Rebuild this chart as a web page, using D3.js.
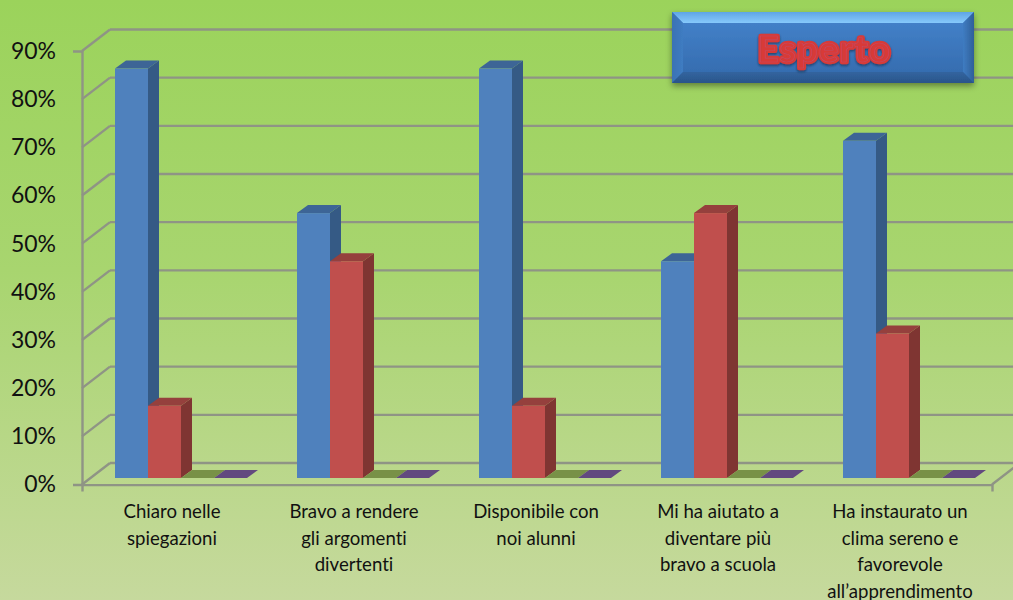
<!DOCTYPE html>
<html>
<head>
<meta charset="utf-8">
<script src="https://cdn.jsdelivr.net/npm/d3@7"></script>
<style>
  html, body { margin: 0; padding: 0; overflow: hidden; }
  svg { display: block; }
  text { font-family: Lato, "Open Sans", sans-serif; fill: #111; font-variant-ligatures: none; }
</style>
</head>
<body>
<div id="chart"></div>
<script>
// DATA
const categories = [
  "Chiaro nelle|spiegazioni",
  "Bravo a rendere|gli argomenti|divertenti",
  "Disponibile con|noi alunni",
  "Mi ha aiutato a|diventare più|bravo a scuola",
  "Ha instaurato un|clima sereno e|favorevole|all’apprendimento"
];
const seriesNames = ["a", "b", "c", "d"];
const seriesA = [85, 55, 85, 45, 70];
const seriesB = [15, 45, 15, 55, 30];
const seriesC = [0, 0, 0, 0, 0];
const seriesD = [0, 0, 0, 0, 0];
const yTicks = [0, 10, 20, 30, 40, 50, 60, 70, 80, 90];
const chartTitle = "Esperto";

// CONSTANTS
const WIDTH = 1013;
const HEIGHT = 600;
const WALL_DX = 28, WALL_DY = -21.5;   // depth of the 3d box
const BAR_DX = 11, BAR_DY = -8;        // depth of one bar
const BASE_DY = -6.5;                  // bars stand a little behind the front edge
const GRID = "#8f9485";

const colors = {
  a: {front: "#4f81bd", top: "#3c6596", side: "#345a85"},
  b: {front: "#c0504d", top: "#953f3c", side: "#7f3431"},
  c: {front: "#9bbb59", top: "#789146", side: "#6a803e"},
  d: {front: "#8064a2", top: "#62497f", side: "#57416f"}
};

// SCALES
const x = d3.scaleBand().domain(categories).range([82, 992]);
const inner = d3.scaleBand().domain(seriesNames).range([33, 165]);
const y = d3.scaleLinear().domain([0, 90]).range([484.5, 51]);

const svg = d3.select("#chart").append("svg")
  .attr("width", WIDTH)
  .attr("height", HEIGHT);

const defs = svg.append("defs");

const addGradient = (id, stops, x2, y2) => {
  const g = defs.append("linearGradient").attr("id", id)
    .attr("x1", 0).attr("y1", 0).attr("x2", x2).attr("y2", y2);
  stops.forEach(s => g.append("stop").attr("offset", s[0]).attr("stop-color", s[1]));
};
addGradient("bg", [[0, "#9bd35b"], [0.45, "#a8d56f"], [1, "#c6d99d"]], 0, 1);
addGradient("boxFace", [[0, "#4584cd"], [1, "#3369ab"]], 0, 1);
addGradient("boxTop", [[0, "#5fa5e6"], [1, "#86c9fb"]], 0, 1);
addGradient("boxLeft", [[0, "#3a72b4"], [1, "#3f7cc2"]], 1, 0);
addGradient("boxRight", [[0, "#3f7cc2"], [1, "#2f6099"]], 1, 0);
addGradient("boxBottom", [[0, "#33659f"], [1, "#29548a"]], 0, 1);

const soft = defs.append("filter").attr("id", "soft");
soft.append("feGaussianBlur").attr("stdDeviation", 0.6);

const shadow = defs.append("filter").attr("id", "shadow")
  .attr("x", "-5%").attr("y", "-10%").attr("width", "110%").attr("height", "125%");
shadow.append("feDropShadow").attr("dx", 0).attr("dy", 3).attr("stdDeviation", 3)
  .attr("flood-color", "#000").attr("flood-opacity", 0.4);

const textShadow = defs.append("filter").attr("id", "textShadow")
  .attr("x", "-10%").attr("y", "-20%").attr("width", "120%").attr("height", "150%");
textShadow.append("feDropShadow").attr("dx", 0).attr("dy", 1.5).attr("stdDeviation", 1.2)
  .attr("flood-color", "#123").attr("flood-opacity", 0.6);

svg.append("rect").attr("width", WIDTH).attr("height", HEIGHT).attr("fill", "url(#bg)");

// WALLS
const walls = svg.append("g").attr("filter", "url(#soft)")
  .attr("stroke", GRID).attr("stroke-width", 2.4).attr("fill", "none");

walls.selectAll(".back").data(yTicks).join("line").attr("class", "back")
  .attr("x1", x.range()[0] + WALL_DX).attr("x2", WIDTH)
  .attr("y1", d => y(d) + WALL_DY).attr("y2", d => y(d) + WALL_DY);

walls.selectAll(".side").data(yTicks).join("line").attr("class", "side")
  .attr("x1", x.range()[0]).attr("x2", x.range()[0] + WALL_DX)
  .attr("y1", d => y(d)).attr("y2", d => y(d) + WALL_DY);

// floor, right edge
walls.append("line")
  .attr("x1", x.range()[1]).attr("x2", x.range()[1] + WALL_DX)
  .attr("y1", y(0)).attr("y2", y(0) + WALL_DY);

// AXES
const yAxis = d3.axisLeft(y).tickValues(yTicks).tickFormat(d => d + "%").tickSize(9).tickPadding(17);
const xAxis = d3.axisBottom(d3.scaleLinear().domain([0, categories.length]).range(x.range()))
  .ticks(categories.length).tickFormat("").tickSize(7);

const yG = svg.append("g").attr("transform", `translate(${x.range()[0]},0)`).call(yAxis);
const xG = svg.append("g").attr("transform", `translate(0,${y(0)})`).call(xAxis);

[yG, xG].forEach(g => {
  g.selectAll("path, line").attr("stroke", GRID).attr("stroke-width", 2.4).attr("filter", "url(#soft)");
});
yG.selectAll("text").style("font-size", "23px").style("fill", "#111");

// BARS
const barData = [seriesA, seriesB, seriesC, seriesD].flatMap((vals, s) =>
  vals.map((v, i) => ({key: seriesNames[s], cat: categories[i], value: v})));

const barW = inner.bandwidth();
const barX = d => x(d.cat) + inner(d.key);
const barY = d => y(d.value) + BASE_DY;
const base = y(0) + BASE_DY;
const pts = arr => arr.map(p => p.join(",")).join(" ");

const bars = svg.append("g").attr("filter", "url(#soft)")
  .selectAll("g").data(barData).join("g");

bars.append("polygon").attr("fill", d => colors[d.key].side)
  .attr("points", d => pts([
    [barX(d) + barW, barY(d)],
    [barX(d) + barW + BAR_DX, barY(d) + BAR_DY],
    [barX(d) + barW + BAR_DX, base + BAR_DY],
    [barX(d) + barW, base]
  ]));
bars.append("polygon").attr("fill", d => colors[d.key].top)
  .attr("points", d => pts([
    [barX(d), barY(d)],
    [barX(d) + BAR_DX, barY(d) + BAR_DY],
    [barX(d) + barW + BAR_DX, barY(d) + BAR_DY],
    [barX(d) + barW, barY(d)]
  ]));
bars.append("rect").attr("fill", d => colors[d.key].front)
  .attr("x", barX).attr("y", barY)
  .attr("width", barW).attr("height", d => base - barY(d));

// CATEGORY LABELS
svg.append("g").selectAll("text").data(categories).join("text")
  .attr("text-anchor", "middle")
  .style("font-size", "18.6px")
  .each(function (d) {
    d3.select(this).selectAll("tspan").data(d.split("|")).join("tspan")
      .attr("x", x(d) + x.bandwidth() / 2 - 1)
      .attr("y", (_, i) => 518 + i * 26.5)
      .text(t => t);
  });

// TITLE BOX
const BOX = {x: 672, y: 12, w: 302, h: 71, b: 11};
const boxG = svg.append("g").attr("filter", "url(#shadow)");
const bx0 = BOX.x, bx1 = BOX.x + BOX.w, by0 = BOX.y, by1 = BOX.y + BOX.h, bb = BOX.b;

boxG.append("rect").attr("x", bx0).attr("y", by0).attr("width", BOX.w).attr("height", BOX.h)
  .attr("fill", "url(#boxFace)");
boxG.append("polygon").attr("fill", "url(#boxTop)")
  .attr("points", pts([[bx0, by0], [bx1, by0], [bx1 - bb, by0 + bb], [bx0 + bb, by0 + bb]]));
boxG.append("polygon").attr("fill", "url(#boxLeft)")
  .attr("points", pts([[bx0, by0], [bx0 + bb, by0 + bb], [bx0 + bb, by1 - bb], [bx0, by1]]));
boxG.append("polygon").attr("fill", "url(#boxRight)")
  .attr("points", pts([[bx1, by0], [bx1 - bb, by0 + bb], [bx1 - bb, by1 - bb], [bx1, by1]]));
boxG.append("polygon").attr("fill", "url(#boxBottom)")
  .attr("points", pts([[bx0, by1], [bx0 + bb, by1 - bb], [bx1 - bb, by1 - bb], [bx1, by1]]));

const titleAttrs = sel => sel
  .attr("x", bx0 + BOX.w / 2 + 1.5).attr("y", 62)
  .attr("text-anchor", "middle")
  .style("font-size", "37px")
  .style("font-weight", 700)
  .style("letter-spacing", "1px")
  .text(chartTitle);

svg.append("text").call(titleAttrs)
  .attr("filter", "url(#textShadow)")
  .style("fill", "#d83a38").style("stroke", "#d83a38").style("stroke-width", 4.5)
  .style("stroke-linejoin", "round");
svg.append("text").call(titleAttrs)
  .style("fill", "#d83a38").style("stroke", "#c04a66").style("stroke-width", 0.6);
</script>
</body>
</html>
